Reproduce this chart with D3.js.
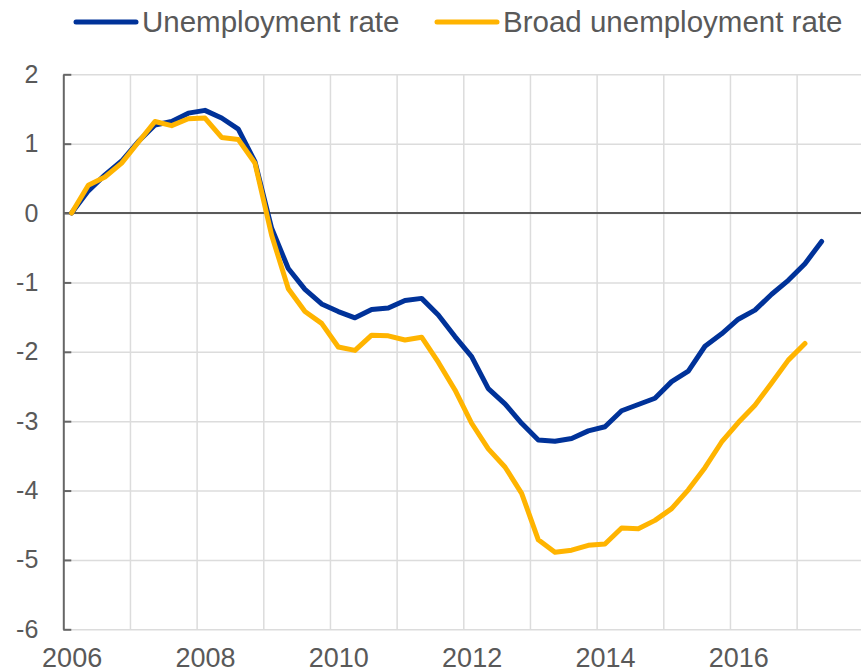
<!DOCTYPE html>
<html lang="en">
  <head>
    <meta charset="utf-8">
    <title>Unemployment rate</title>
    <style>
      body { margin: 0; background: #fff; }
      svg text { font-family: "Liberation Sans", Arial, sans-serif; fill: #595959; }
    </style>
  </head>
  <body>
    <svg id="chart"></svg>
    <script src="https://d3js.org/d3.v7.min.js"></script>
    <script>
      // quarterly, 2006Q1 onwards (change since 2006Q1, pp)
      const yearLabels = ["2006", "2008", "2010", "2012", "2014", "2016"];
      const yTicks = [2, 1, 0, -1, -2, -3, -4, -5, -6];
      const seriesNames = ["Unemployment rate", "Broad unemployment rate"];

      const unemploymentRate = [
        0, 0.32, 0.55, 0.75, 1.03, 1.27, 1.32, 1.44, 1.48, 1.37, 1.21, 0.74,
        -0.22, -0.80, -1.10, -1.31, -1.42, -1.51, -1.39, -1.37, -1.26, -1.23, -1.47, -1.78,
        -2.07, -2.53, -2.75, -3.03, -3.27, -3.29, -3.25, -3.14, -3.08, -2.85, -2.76, -2.67,
        -2.43, -2.28, -1.92, -1.74, -1.53, -1.40, -1.17, -0.97, -0.73, -0.41
      ];
      const broadUnemploymentRate = [
        0, 0.40, 0.52, 0.72, 1.02, 1.32, 1.26, 1.36, 1.37, 1.09, 1.06, 0.72,
        -0.32, -1.09, -1.42, -1.59, -1.93, -1.98, -1.76, -1.77, -1.83, -1.79, -2.15, -2.55,
        -3.03, -3.40, -3.66, -4.04, -4.71, -4.89, -4.86, -4.79, -4.77, -4.54, -4.55, -4.43,
        -4.26, -3.99, -3.67, -3.30, -3.02, -2.77, -2.45, -2.12, -1.88
      ];

      const blue = "#003299";
      const yellow = "#ffb400";

      const width = 861, height = 672;
      const svg = d3.select("#chart").attr("width", width).attr("height", height);

      // x in quarters from 2006Q1, 12 years shown
      const x = d3.scaleLinear().domain([0, 48]).range([63.3, 863.3]);
      const y = d3.scaleLinear().domain([-6, 2]).range([629.3, 74.3]);

      // horizontal grid
      const hGrid = svg.append("g")
        .attr("transform", `translate(${x(0)},0)`)
        .call(d3.axisRight(y).tickValues(yTicks).tickSize(width - x(0)).tickFormat(""));
      hGrid.select(".domain").remove();
      hGrid.selectAll("line").attr("stroke", "#dcdcdc").attr("stroke-width", 1.5);

      // vertical grid, one per year
      const vGrid = svg.append("g")
        .attr("transform", `translate(0,${y(-6)})`)
        .call(d3.axisBottom(x).tickValues(d3.range(4, 49, 4)).tickSize(-(y(-6) - y(2))).tickFormat(""));
      vGrid.select(".domain").remove();
      vGrid.selectAll("line").attr("stroke", "#dcdcdc").attr("stroke-width", 1.5);

      // zero line
      svg.append("line")
        .attr("x1", x(0)).attr("x2", width)
        .attr("y1", y(0)).attr("y2", y(0))
        .attr("stroke", "#5a5a5a").attr("stroke-width", 2);

      // left axis, ticks pointing inward
      const yAxis = svg.append("g")
        .attr("transform", `translate(${x(0)},0)`)
        .call(d3.axisRight(y).tickValues(yTicks).tickSize(8).tickSizeOuter(0).tickFormat(""));
      yAxis.selectAll("line, path").attr("stroke", "#666").attr("stroke-width", 2);

      const yLabels = svg.append("g")
        .attr("transform", `translate(${x(0)},0)`)
        .call(d3.axisLeft(y).tickValues(yTicks).tickSize(0).tickPadding(25).tickFormat(d => String(d)));
      yLabels.select(".domain").remove();
      yLabels.selectAll("text").attr("font-size", 25).attr("fill", "#595959")
        .attr("font-family", "Liberation Sans, Arial, sans-serif");

      // x labels at first quarter of each even year
      const xLabels = svg.append("g")
        .attr("transform", `translate(0,${y(-6)})`)
        .call(d3.axisBottom(x)
          .tickValues(yearLabels.map((d, i) => i * 8 + 0.5))
          .tickSize(0).tickPadding(19)
          .tickFormat((d, i) => yearLabels[i]));
      xLabels.select(".domain").remove();
      xLabels.selectAll("text").attr("font-size", 27).attr("fill", "#595959")
        .attr("font-family", "Liberation Sans, Arial, sans-serif");

      const line = d3.line()
        .x((d, i) => x(i + 0.5))
        .y(d => y(d));

      svg.append("path").datum(unemploymentRate)
        .attr("d", line)
        .attr("fill", "none").attr("stroke", blue).attr("stroke-width", 5)
        .attr("stroke-linejoin", "round").attr("stroke-linecap", "round");

      svg.append("path").datum(broadUnemploymentRate)
        .attr("d", line)
        .attr("fill", "none").attr("stroke", yellow).attr("stroke-width", 5)
        .attr("stroke-linejoin", "round").attr("stroke-linecap", "round");

      // legend
      const legendX = [76, 437];
      const legend = svg.append("g").selectAll("g")
        .data(seriesNames).enter().append("g")
        .attr("transform", (d, i) => `translate(${legendX[i]},22)`);
      legend.append("line")
        .attr("x1", 0).attr("x2", 60)
        .attr("stroke", (d, i) => i === 0 ? blue : yellow)
        .attr("stroke-width", 5).attr("stroke-linecap", "round");
      legend.append("text")
        .attr("x", 66)
        .attr("y", 9.5)
        .attr("font-size", 29.5)
        .text(d => d);
    </script>
  </body>
</html>
